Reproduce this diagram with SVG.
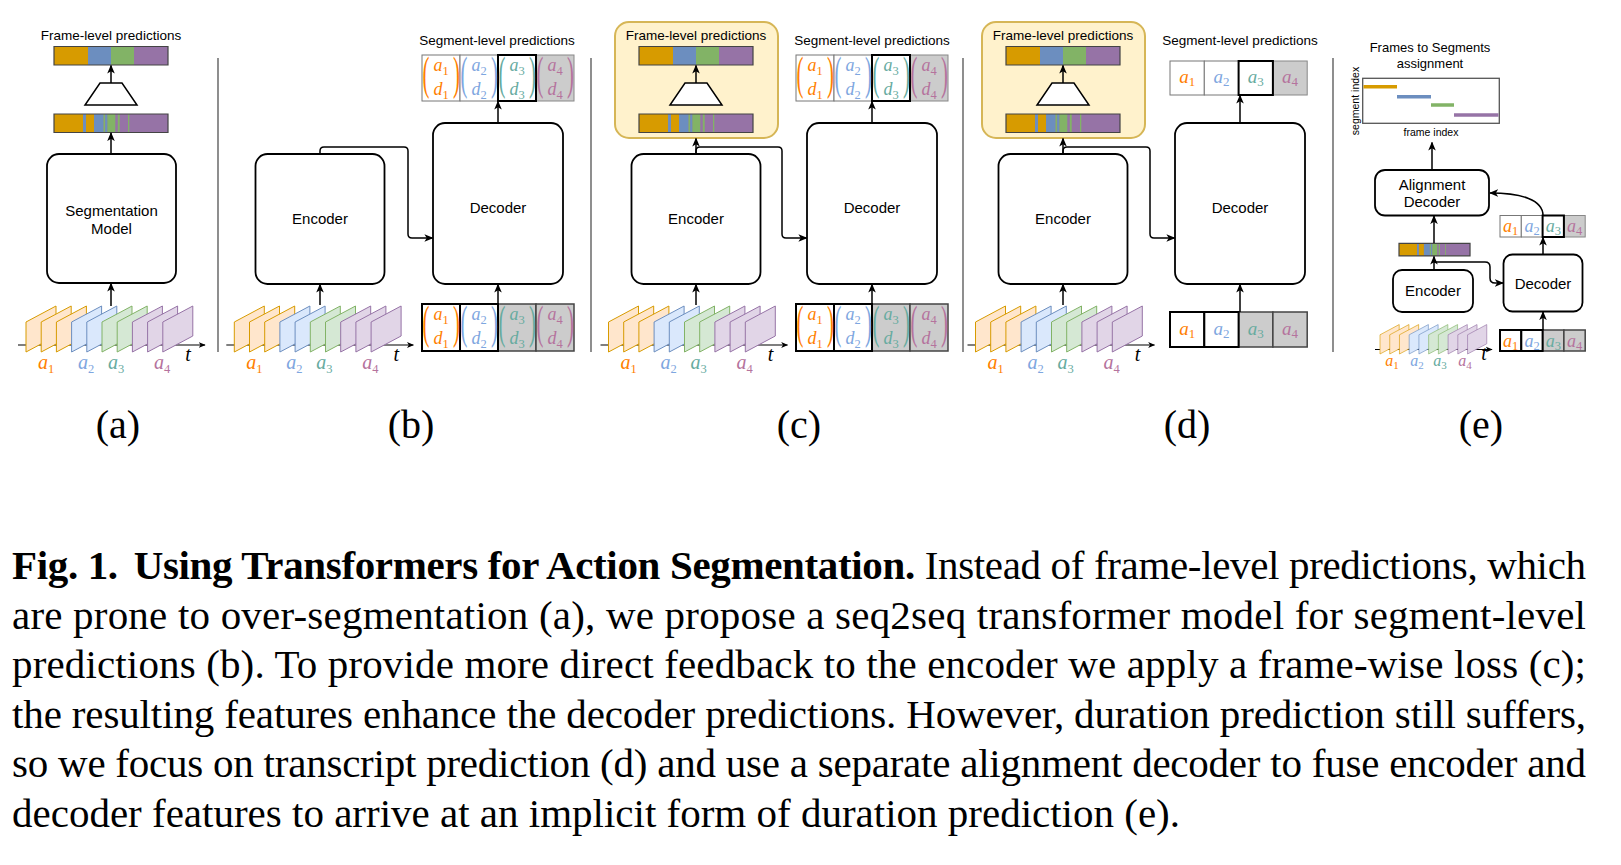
<svg xmlns="http://www.w3.org/2000/svg" xmlns:xlink="http://www.w3.org/1999/xlink" width="1621" height="865" viewBox="0 0 1621 865">
<style>
.t{font-family:"Liberation Sans",Arial,sans-serif;text-anchor:middle;fill:#000}
.t13{font-size:13.5px}
.t15{font-size:15px}
.box{fill:#fff;stroke:#000;stroke-width:1.8}
.yel{fill:#FFF2CC;stroke:#D6B656;stroke-width:2}
.trap{fill:#fff;stroke:#000;stroke-width:1.5}
.fo{fill:#FFE6CC;stroke:#D79B00;stroke-width:1}
.fb{fill:#DAE8FC;stroke:#6C8EBF;stroke-width:1}
.fg{fill:#D5E8D4;stroke:#82B366;stroke-width:1}
.fp{fill:#E1D5E7;stroke:#9673A6;stroke-width:1}
.axis{stroke:#000;stroke-width:1.2;fill:none;marker-end:url(#ah2)}
.sep{stroke:#444;stroke-width:1.2}
.cn{fill:none;stroke:#000;stroke-width:1.5;marker-end:url(#ah)}
.tw{fill:#fff;stroke:#777;stroke-width:1}
.tk{fill:#fff;stroke:#000;stroke-width:2}
.tg{fill:#ccc;stroke:#888;stroke-width:1}
.tgd{fill:#ccc;stroke:#444;stroke-width:1.5}
.m{font-family:"Liberation Serif","Times New Roman",serif;font-size:18px;text-anchor:middle}
.fl{font-family:"Liberation Serif","Times New Roman",serif;font-size:20px;text-anchor:middle}
.m2{font-family:"Liberation Serif","Times New Roman",serif;font-size:19px;text-anchor:middle}
.m3{font-family:"Liberation Serif","Times New Roman",serif;font-size:18px;text-anchor:middle}
.me{font-family:"Liberation Serif","Times New Roman",serif;font-size:16px;text-anchor:middle}
.i{font-style:italic}
.s{font-size:12.5px}
.s2{font-size:13px}
.s3{font-size:11px}
.p{font-family:"Liberation Serif","Times New Roman",serif;font-size:46px;text-anchor:middle}
.c1{fill:#FF8000}
.c2{fill:#7EA6E0}
.c3{fill:#67AB9F}
.c4{fill:#B5739D}
.tt{font-family:"Liberation Serif","Times New Roman",serif;font-size:20px;font-style:italic;text-anchor:middle;fill:#000}
.lbl{font-family:"Liberation Serif","Times New Roman",serif;font-size:40px;text-anchor:middle;fill:#000}
.cap{font-family:"Liberation Serif","Times New Roman",serif;font-size:41px;fill:#000}
</style>
<defs>
<marker id="ah" viewBox="0 0 10 10" refX="9" refY="5" markerWidth="9" markerHeight="9" markerUnits="userSpaceOnUse" orient="auto"><path d="M0,0.8 L10,5 L0,9.2 L2.6,5 Z" fill="#000"/></marker>
<marker id="ah2" viewBox="0 0 10 10" refX="9" refY="5" markerWidth="7" markerHeight="7" markerUnits="userSpaceOnUse" orient="auto"><path d="M0,0.8 L10,5 L0,9.2 L2.6,5 Z" fill="#000"/></marker>
<g id="frames">
<polygon class="fo" points="0,0 0,-30 30,-46 30,-16"/>
<polygon class="fo" points="15.2,0 15.2,-30 45.2,-46 45.2,-16"/>
<polygon class="fo" points="30.4,0 30.4,-30 60.4,-46 60.4,-16"/>
<polygon class="fb" points="45.6,0 45.6,-30 75.6,-46 75.6,-16"/>
<polygon class="fb" points="60.8,0 60.8,-30 90.8,-46 90.8,-16"/>
<polygon class="fg" points="76,0 76,-30 106,-46 106,-16"/>
<polygon class="fg" points="91.2,0 91.2,-30 121.2,-46 121.2,-16"/>
<polygon class="fp" points="106.4,0 106.4,-30 136.4,-46 136.4,-16"/>
<polygon class="fp" points="121.6,0 121.6,-30 151.6,-46 151.6,-16"/>
<polygon class="fp" points="136.8,0 136.8,-30 166.8,-46 166.8,-16"/>
</g>
<g id="clean">
<rect x="0" y="0" width="34" height="18.5" fill="#D79B00"/>
<rect x="34" y="0" width="23" height="18.5" fill="#6C8EBF"/>
<rect x="57" y="0" width="23" height="18.5" fill="#82B366"/>
<rect x="80" y="0" width="34" height="18.5" fill="#9673A6"/>
<rect x="0" y="0" width="114" height="18.5" fill="none" stroke="#444" stroke-width="1.2" vector-effect="non-scaling-stroke"/>
</g>
<g id="noisy">
<rect x="0" y="0" width="114" height="18.5" fill="#9673A6"/>
<rect x="0" y="0" width="29" height="18.5" fill="#D79B00"/>
<rect x="29" y="0" width="3" height="18.5" fill="#6C8EBF"/>
<rect x="32" y="0" width="8" height="18.5" fill="#D79B00"/>
<rect x="40" y="0" width="9.5" height="18.5" fill="#6C8EBF"/>
<rect x="49.5" y="0" width="1.8" height="18.5" fill="#82B366"/>
<rect x="51.3" y="0" width="2.1" height="18.5" fill="#6C8EBF"/>
<rect x="53.4" y="0" width="7.9" height="18.5" fill="#82B366"/>
<rect x="63.8" y="0" width="1.9" height="18.5" fill="#82B366"/>
<rect x="74" y="0" width="1.3" height="18.5" fill="#82B366"/>
<rect x="0" y="0" width="114" height="18.5" fill="none" stroke="#444" stroke-width="1.2" vector-effect="non-scaling-stroke"/>
</g>
</defs>
<rect x="0" y="0" width="1621" height="865" fill="#fff"/>

<g id="separators">
<line class="sep" x1="218" y1="58" x2="218" y2="352"/>
<line class="sep" x1="591" y1="58" x2="591" y2="352"/>
<line class="sep" x1="963" y1="58" x2="963" y2="352"/>
<line class="sep" x1="1333" y1="58" x2="1333" y2="352"/>
</g>

<!-- Panel (a) -->
<g id="a-title"><text class="t t13" x="111" y="40">Frame-level predictions</text></g>
<g id="a-top-bar"><use href="#clean" x="54" y="46.5"/></g>
<g id="a-pool"><polygon class="trap" points="100,83 122,83 137,105 85,105"/></g>
<g id="a-frame-bar"><use href="#noisy" x="54" y="114"/></g>
<g id="a-model"><rect class="box" x="47" y="154" width="129" height="129" rx="12"/><text class="t t15" x="111.5" y="216">Segmentation</text><text class="t t15" x="111.5" y="234">Model</text></g>
<g id="a-frames">
<line class="axis" x1="18" y1="345" x2="205" y2="345"/>
<use href="#frames" transform="translate(26,352)"/>
<text class="tt" x="188" y="361">t</text>
<text class="fl c1" x="46" y="369"><tspan class="i">a</tspan><tspan class="s" dy="3.5">1</tspan></text>
<text class="fl c2" x="86" y="369"><tspan class="i">a</tspan><tspan class="s" dy="3.5">2</tspan></text>
<text class="fl c3" x="116" y="369"><tspan class="i">a</tspan><tspan class="s" dy="3.5">3</tspan></text>
<text class="fl c4" x="162" y="369"><tspan class="i">a</tspan><tspan class="s" dy="3.5">4</tspan></text>
</g>

<!-- Panel (b) -->
<g id="b-title"><text class="t t13" x="497" y="45">Segment-level predictions</text></g>
<g id="b-out-tokens">
<rect class="tw" x="422" y="55" width="38" height="46"/>
<rect class="tw" x="460" y="55" width="38" height="46"/>
<rect class="tg" x="536" y="55" width="38" height="46"/>
<rect class="tk" x="498" y="55" width="38" height="46"/>
<text class="p c1" transform="translate(426,88.7) scale(0.45,1)">(</text><text class="p c1" transform="translate(456.5,88.7) scale(0.45,1)">)</text>
<text class="m c1" x="441" y="71"><tspan class="i">a</tspan><tspan class="s" dy="3.5">1</tspan></text>
<text class="m c1" x="441" y="95"><tspan class="i">d</tspan><tspan class="s" dy="3.5">1</tspan></text>
<text class="p c2" transform="translate(464,88.7) scale(0.45,1)">(</text><text class="p c2" transform="translate(494.5,88.7) scale(0.45,1)">)</text>
<text class="m c2" x="479" y="71"><tspan class="i">a</tspan><tspan class="s" dy="3.5">2</tspan></text>
<text class="m c2" x="479" y="95"><tspan class="i">d</tspan><tspan class="s" dy="3.5">2</tspan></text>
<text class="p c3" transform="translate(502,88.7) scale(0.45,1)">(</text><text class="p c3" transform="translate(532.5,88.7) scale(0.45,1)">)</text>
<text class="m c3" x="517" y="71"><tspan class="i">a</tspan><tspan class="s" dy="3.5">3</tspan></text>
<text class="m c3" x="517" y="95"><tspan class="i">d</tspan><tspan class="s" dy="3.5">3</tspan></text>
<text class="p c4" transform="translate(540,88.7) scale(0.45,1)">(</text><text class="p c4" transform="translate(570.5,88.7) scale(0.45,1)">)</text>
<text class="m c4" x="555" y="71"><tspan class="i">a</tspan><tspan class="s" dy="3.5">4</tspan></text>
<text class="m c4" x="555" y="95"><tspan class="i">d</tspan><tspan class="s" dy="3.5">4</tspan></text>
</g>
<g id="b-encoder"><rect class="box" x="255.5" y="154" width="129" height="130" rx="12"/><text class="t t15" x="320" y="224">Encoder</text></g>
<g id="b-decoder"><rect class="box" x="433" y="123" width="130" height="161" rx="12"/><text class="t t15" x="498" y="213">Decoder</text></g>
<g id="b-in-tokens">
<rect class="tgd" x="498" y="304" width="38" height="47"/>
<rect class="tgd" x="536" y="304" width="38" height="47"/>
<rect class="tk" x="422" y="304" width="38" height="47"/>
<rect class="tk" x="460" y="304" width="38" height="47"/>
<text class="p c1" transform="translate(426,337.7) scale(0.45,1)">(</text><text class="p c1" transform="translate(456.5,337.7) scale(0.45,1)">)</text>
<text class="m c1" x="441" y="320"><tspan class="i">a</tspan><tspan class="s" dy="3.5">1</tspan></text>
<text class="m c1" x="441" y="344"><tspan class="i">d</tspan><tspan class="s" dy="3.5">1</tspan></text>
<text class="p c2" transform="translate(464,337.7) scale(0.45,1)">(</text><text class="p c2" transform="translate(494.5,337.7) scale(0.45,1)">)</text>
<text class="m c2" x="479" y="320"><tspan class="i">a</tspan><tspan class="s" dy="3.5">2</tspan></text>
<text class="m c2" x="479" y="344"><tspan class="i">d</tspan><tspan class="s" dy="3.5">2</tspan></text>
<text class="p c3" transform="translate(502,337.7) scale(0.45,1)">(</text><text class="p c3" transform="translate(532.5,337.7) scale(0.45,1)">)</text>
<text class="m c3" x="517" y="320"><tspan class="i">a</tspan><tspan class="s" dy="3.5">3</tspan></text>
<text class="m c3" x="517" y="344"><tspan class="i">d</tspan><tspan class="s" dy="3.5">3</tspan></text>
<text class="p c4" transform="translate(540,337.7) scale(0.45,1)">(</text><text class="p c4" transform="translate(570.5,337.7) scale(0.45,1)">)</text>
<text class="m c4" x="555" y="320"><tspan class="i">a</tspan><tspan class="s" dy="3.5">4</tspan></text>
<text class="m c4" x="555" y="344"><tspan class="i">d</tspan><tspan class="s" dy="3.5">4</tspan></text>
</g>
<g id="b-frames">
<line class="axis" x1="226.3" y1="345" x2="413.3" y2="345"/>
<use href="#frames" transform="translate(234.3,352)"/>
<text class="tt" x="396.3" y="361">t</text>
<text class="fl c1" x="254.3" y="369"><tspan class="i">a</tspan><tspan class="s" dy="3.5">1</tspan></text>
<text class="fl c2" x="294.3" y="369"><tspan class="i">a</tspan><tspan class="s" dy="3.5">2</tspan></text>
<text class="fl c3" x="324.3" y="369"><tspan class="i">a</tspan><tspan class="s" dy="3.5">3</tspan></text>
<text class="fl c4" x="370.3" y="369"><tspan class="i">a</tspan><tspan class="s" dy="3.5">4</tspan></text>
</g>

<!-- Panel (c) -->
<g id="c-frame-head"><rect class="yel" x="615" y="22" width="163" height="116" rx="14"/><text class="t t13" x="696" y="40">Frame-level predictions</text></g>
<g id="c-top-bar"><use href="#clean" x="639" y="46.5"/></g>
<g id="c-pool"><polygon class="trap" points="685,83 707,83 722,105 670,105"/></g>
<g id="c-frame-bar"><use href="#noisy" x="639" y="114"/></g>
<g id="c-title"><text class="t t13" x="872" y="45">Segment-level predictions</text></g>
<g id="c-out-tokens">
<rect class="tw" x="796" y="55" width="38" height="46"/>
<rect class="tw" x="834" y="55" width="38" height="46"/>
<rect class="tg" x="910" y="55" width="38" height="46"/>
<rect class="tk" x="872" y="55" width="38" height="46"/>
<text class="p c1" transform="translate(800,88.7) scale(0.45,1)">(</text><text class="p c1" transform="translate(830.5,88.7) scale(0.45,1)">)</text>
<text class="m c1" x="815" y="71"><tspan class="i">a</tspan><tspan class="s" dy="3.5">1</tspan></text>
<text class="m c1" x="815" y="95"><tspan class="i">d</tspan><tspan class="s" dy="3.5">1</tspan></text>
<text class="p c2" transform="translate(838,88.7) scale(0.45,1)">(</text><text class="p c2" transform="translate(868.5,88.7) scale(0.45,1)">)</text>
<text class="m c2" x="853" y="71"><tspan class="i">a</tspan><tspan class="s" dy="3.5">2</tspan></text>
<text class="m c2" x="853" y="95"><tspan class="i">d</tspan><tspan class="s" dy="3.5">2</tspan></text>
<text class="p c3" transform="translate(876,88.7) scale(0.45,1)">(</text><text class="p c3" transform="translate(906.5,88.7) scale(0.45,1)">)</text>
<text class="m c3" x="891" y="71"><tspan class="i">a</tspan><tspan class="s" dy="3.5">3</tspan></text>
<text class="m c3" x="891" y="95"><tspan class="i">d</tspan><tspan class="s" dy="3.5">3</tspan></text>
<text class="p c4" transform="translate(914,88.7) scale(0.45,1)">(</text><text class="p c4" transform="translate(944.5,88.7) scale(0.45,1)">)</text>
<text class="m c4" x="929" y="71"><tspan class="i">a</tspan><tspan class="s" dy="3.5">4</tspan></text>
<text class="m c4" x="929" y="95"><tspan class="i">d</tspan><tspan class="s" dy="3.5">4</tspan></text>
</g>
<g id="c-encoder"><rect class="box" x="631.5" y="154" width="129" height="130" rx="12"/><text class="t t15" x="696" y="224">Encoder</text></g>
<g id="c-decoder"><rect class="box" x="807" y="123" width="130" height="161" rx="12"/><text class="t t15" x="872" y="213">Decoder</text></g>
<g id="c-in-tokens">
<rect class="tgd" x="872" y="304" width="38" height="47"/>
<rect class="tgd" x="910" y="304" width="38" height="47"/>
<rect class="tk" x="796" y="304" width="38" height="47"/>
<rect class="tk" x="834" y="304" width="38" height="47"/>
<text class="p c1" transform="translate(800,337.7) scale(0.45,1)">(</text><text class="p c1" transform="translate(830.5,337.7) scale(0.45,1)">)</text>
<text class="m c1" x="815" y="320"><tspan class="i">a</tspan><tspan class="s" dy="3.5">1</tspan></text>
<text class="m c1" x="815" y="344"><tspan class="i">d</tspan><tspan class="s" dy="3.5">1</tspan></text>
<text class="p c2" transform="translate(838,337.7) scale(0.45,1)">(</text><text class="p c2" transform="translate(868.5,337.7) scale(0.45,1)">)</text>
<text class="m c2" x="853" y="320"><tspan class="i">a</tspan><tspan class="s" dy="3.5">2</tspan></text>
<text class="m c2" x="853" y="344"><tspan class="i">d</tspan><tspan class="s" dy="3.5">2</tspan></text>
<text class="p c3" transform="translate(876,337.7) scale(0.45,1)">(</text><text class="p c3" transform="translate(906.5,337.7) scale(0.45,1)">)</text>
<text class="m c3" x="891" y="320"><tspan class="i">a</tspan><tspan class="s" dy="3.5">3</tspan></text>
<text class="m c3" x="891" y="344"><tspan class="i">d</tspan><tspan class="s" dy="3.5">3</tspan></text>
<text class="p c4" transform="translate(914,337.7) scale(0.45,1)">(</text><text class="p c4" transform="translate(944.5,337.7) scale(0.45,1)">)</text>
<text class="m c4" x="929" y="320"><tspan class="i">a</tspan><tspan class="s" dy="3.5">4</tspan></text>
<text class="m c4" x="929" y="344"><tspan class="i">d</tspan><tspan class="s" dy="3.5">4</tspan></text>
</g>
<g id="c-frames">
<line class="axis" x1="600.5" y1="345" x2="787.5" y2="345"/>
<use href="#frames" transform="translate(608.5,352)"/>
<text class="tt" x="770.5" y="361">t</text>
<text class="fl c1" x="628.5" y="369"><tspan class="i">a</tspan><tspan class="s" dy="3.5">1</tspan></text>
<text class="fl c2" x="668.5" y="369"><tspan class="i">a</tspan><tspan class="s" dy="3.5">2</tspan></text>
<text class="fl c3" x="698.5" y="369"><tspan class="i">a</tspan><tspan class="s" dy="3.5">3</tspan></text>
<text class="fl c4" x="744.5" y="369"><tspan class="i">a</tspan><tspan class="s" dy="3.5">4</tspan></text>
</g>

<!-- Panel (d) -->
<g id="d-frame-head"><rect class="yel" x="982" y="22" width="163" height="116" rx="14"/><text class="t t13" x="1063" y="40">Frame-level predictions</text></g>
<g id="d-top-bar"><use href="#clean" x="1006" y="46.5"/></g>
<g id="d-pool"><polygon class="trap" points="1052,83 1074,83 1089,105 1037,105"/></g>
<g id="d-frame-bar"><use href="#noisy" x="1006" y="114"/></g>
<g id="d-title"><text class="t t13" x="1240" y="45">Segment-level predictions</text></g>
<g id="d-out-tokens">
<rect class="tw" x="1170" y="61" width="34.3" height="34"/>
<rect class="tw" x="1204.3" y="61" width="34.3" height="34"/>
<rect class="tg" x="1272.9" y="61" width="34.3" height="34"/>
<rect class="tk" x="1238.6" y="61" width="34.3" height="34"/>
<text class="m2 c1" x="1187.2" y="82.5"><tspan class="i">a</tspan><tspan class="s2" dy="3.5">1</tspan></text>
<text class="m2 c2" x="1221.5" y="82.5"><tspan class="i">a</tspan><tspan class="s2" dy="3.5">2</tspan></text>
<text class="m2 c3" x="1255.8" y="82.5"><tspan class="i">a</tspan><tspan class="s2" dy="3.5">3</tspan></text>
<text class="m2 c4" x="1290.1" y="82.5"><tspan class="i">a</tspan><tspan class="s2" dy="3.5">4</tspan></text>
</g>
<g id="d-encoder"><rect class="box" x="998.5" y="154" width="129" height="130" rx="12"/><text class="t t15" x="1063" y="224">Encoder</text></g>
<g id="d-decoder"><rect class="box" x="1175" y="123" width="130" height="161" rx="12"/><text class="t t15" x="1240" y="213">Decoder</text></g>
<g id="d-in-tokens">
<rect class="tgd" x="1238.6" y="312" width="34.3" height="35"/>
<rect class="tgd" x="1272.9" y="312" width="34.3" height="35"/>
<rect class="tk" x="1170" y="312" width="34.3" height="35"/>
<rect class="tk" x="1204.3" y="312" width="34.3" height="35"/>
<text class="m2 c1" x="1187.2" y="334.5"><tspan class="i">a</tspan><tspan class="s2" dy="3.5">1</tspan></text>
<text class="m2 c2" x="1221.5" y="334.5"><tspan class="i">a</tspan><tspan class="s2" dy="3.5">2</tspan></text>
<text class="m2 c3" x="1255.8" y="334.5"><tspan class="i">a</tspan><tspan class="s2" dy="3.5">3</tspan></text>
<text class="m2 c4" x="1290.1" y="334.5"><tspan class="i">a</tspan><tspan class="s2" dy="3.5">4</tspan></text>
</g>
<g id="d-frames">
<line class="axis" x1="967.5" y1="345" x2="1154.5" y2="345"/>
<use href="#frames" transform="translate(975.5,352)"/>
<text class="tt" x="1137.5" y="361">t</text>
<text class="fl c1" x="995.5" y="369"><tspan class="i">a</tspan><tspan class="s" dy="3.5">1</tspan></text>
<text class="fl c2" x="1035.5" y="369"><tspan class="i">a</tspan><tspan class="s" dy="3.5">2</tspan></text>
<text class="fl c3" x="1065.5" y="369"><tspan class="i">a</tspan><tspan class="s" dy="3.5">3</tspan></text>
<text class="fl c4" x="1111.5" y="369"><tspan class="i">a</tspan><tspan class="s" dy="3.5">4</tspan></text>
</g>

<!-- Panel (e) -->
<g id="e-title"><text class="t" font-size="13" x="1430" y="52">Frames to Segments</text><text class="t" font-size="13" x="1430" y="67.5">assignment</text></g>
<g id="e-plot">
<rect x="1362.7" y="78.3" width="136.6" height="45" fill="#fff" stroke="#555" stroke-width="1.3"/>
<line x1="1363.5" y1="86.7" x2="1397" y2="86.7" stroke="#D79B00" stroke-width="3.5"/>
<line x1="1397" y1="96.7" x2="1431" y2="96.7" stroke="#6C8EBF" stroke-width="3.5"/>
<line x1="1431" y1="105" x2="1454" y2="105" stroke="#82B366" stroke-width="3.5"/>
<line x1="1454" y1="115" x2="1498.5" y2="115" stroke="#9673A6" stroke-width="3.5"/>
<text class="t" font-size="10.5" transform="translate(1355,101) rotate(-90)" x="0" y="3.7">segment index</text>
<text class="t" font-size="10.5" x="1431" y="135.5">frame index</text>
</g>
<g id="e-align-decoder"><rect class="box" x="1375" y="170" width="114" height="45.5" rx="10"/><text class="t t15" x="1432" y="189.5">Alignment</text><text class="t t15" x="1432" y="207">Decoder</text></g>
<g id="e-frame-bar"><use href="#noisy" transform="translate(1399,243.3) scale(0.623,0.676)"/></g>
<g id="e-out-tokens">
<rect class="tw" x="1500" y="215.5" width="21.3" height="21.5"/>
<rect class="tw" x="1521.3" y="215.5" width="21.3" height="21.5"/>
<rect class="tg" x="1563.9" y="215.5" width="21.3" height="21.5"/>
<rect class="tk" x="1542.6" y="215.5" width="21.3" height="21.5"/>
<text class="m3 c1" x="1510.7" y="232"><tspan class="i">a</tspan><tspan class="s" dy="3">1</tspan></text>
<text class="m3 c2" x="1532" y="232"><tspan class="i">a</tspan><tspan class="s" dy="3">2</tspan></text>
<text class="m3 c3" x="1553.3" y="232"><tspan class="i">a</tspan><tspan class="s" dy="3">3</tspan></text>
<text class="m3 c4" x="1574.6" y="232"><tspan class="i">a</tspan><tspan class="s" dy="3">4</tspan></text>
</g>
<g id="e-encoder"><rect class="box" x="1393" y="270" width="80" height="42" rx="9"/><text class="t t15" x="1433" y="296">Encoder</text></g>
<g id="e-decoder"><rect class="box" x="1503.5" y="254.5" width="79" height="57" rx="9"/><text class="t t15" x="1543" y="289">Decoder</text></g>
<g id="e-in-tokens">
<rect class="tgd" x="1542.6" y="330" width="21.3" height="21"/>
<rect class="tgd" x="1563.9" y="330" width="21.3" height="21"/>
<rect class="tk" x="1500" y="330" width="21.3" height="21"/>
<rect class="tk" x="1521.3" y="330" width="21.3" height="21"/>
<text class="m3 c1" x="1510.7" y="346.5"><tspan class="i">a</tspan><tspan class="s" dy="3">1</tspan></text>
<text class="m3 c2" x="1532" y="346.5"><tspan class="i">a</tspan><tspan class="s" dy="3">2</tspan></text>
<text class="m3 c3" x="1553.3" y="346.5"><tspan class="i">a</tspan><tspan class="s" dy="3">3</tspan></text>
<text class="m3 c4" x="1574.6" y="346.5"><tspan class="i">a</tspan><tspan class="s" dy="3">4</tspan></text>
</g>
<g id="e-frames">
<line class="axis" x1="1375" y1="349.5" x2="1492" y2="349.5"/>
<use href="#frames" transform="translate(1380,354) scale(0.64)"/>
<text class="tt" x="1484" y="360">t</text>
<text class="me c1" x="1392" y="366"><tspan class="i">a</tspan><tspan class="s3" dy="3">1</tspan></text>
<text class="me c2" x="1417" y="366"><tspan class="i">a</tspan><tspan class="s3" dy="3">2</tspan></text>
<text class="me c3" x="1440" y="366"><tspan class="i">a</tspan><tspan class="s3" dy="3">3</tspan></text>
<text class="me c4" x="1465" y="366"><tspan class="i">a</tspan><tspan class="s3" dy="3">4</tspan></text>
</g>

<g id="connectors">
<path class="cn" d="M111,83 V65.5"/>
<path class="cn" d="M111,154 V133"/>
<path class="cn" d="M111,306 V283.5"/>
<path class="cn" d="M320,305 V284.5"/>
<path class="cn" d="M498,304 V284.5"/>
<path class="cn" d="M498,123 V101.5"/>
<path class="cn" d="M320,154 V151 Q320,147 324,147 H404 Q408,147 408,151 V234 Q408,238 412,238 H432.5"/>
<path class="cn" d="M696,83 V65.5"/>
<path class="cn" d="M696,154 V138.5"/>
<path class="cn" d="M696,154 V151 Q696,147 700,147 H778 Q782,147 782,151 V234 Q782,238 786,238 H806.5"/>
<path class="cn" d="M696,305 V284.5"/>
<path class="cn" d="M872,304 V284.5"/>
<path class="cn" d="M872,123 V101.5"/>
<path class="cn" d="M1063,83 V65.5"/>
<path class="cn" d="M1063,154 V138.5"/>
<path class="cn" d="M1063,154 V151 Q1063,147 1067,147 H1146 Q1150,147 1150,151 V234 Q1150,238 1154,238 H1174.5"/>
<path class="cn" d="M1063,305 V284.5"/>
<path class="cn" d="M1240,312 V284.5"/>
<path class="cn" d="M1240,123 V95.5"/>
<path class="cn" d="M1432,170 V142.5"/>
<path class="cn" d="M1434,243 V216"/>
<path class="cn" d="M1434,270 V256.5"/>
<path class="cn" d="M1434,262 H1485 Q1490,262 1490,267 V278 Q1490,283 1495,283 H1503"/>
<path class="cn" d="M1543,254.5 V237.5"/>
<path class="cn" d="M1543,330 V312"/>
<path class="cn" d="M1543,215.5 C1543,200 1522,193 1490,193"/>
</g>

<g id="panel-labels">
<text class="lbl" x="118" y="438">(a)</text>
<text class="lbl" x="411" y="438">(b)</text>
<text class="lbl" x="799" y="438">(c)</text>
<text class="lbl" x="1187" y="438">(d)</text>
<text class="lbl" x="1481" y="438">(e)</text>
</g>

<g id="caption" class="cap">
<text x="12" y="579" textLength="1574" lengthAdjust="spacing"><tspan font-weight="bold">Fig. 1. <tspan dx="6">Using Transformers for Action Segmentation.</tspan></tspan> Instead of frame-level predictions, which</text>
<text x="12" y="628.5" textLength="1574" lengthAdjust="spacing">are prone to over-segmentation (a), we propose a seq2seq transformer model for segment-level</text>
<text x="12" y="678" textLength="1574" lengthAdjust="spacing">predictions (b). To provide more direct feedback to the encoder we apply a frame-wise loss (c);</text>
<text x="12" y="727.5" textLength="1574" lengthAdjust="spacing">the resulting features enhance the decoder predictions. However, duration prediction still suffers,</text>
<text x="12" y="777" textLength="1574" lengthAdjust="spacing">so we focus on transcript prediction (d) and use a separate alignment decoder to fuse encoder and</text>
<text x="12" y="826.5">decoder features to arrive at an implicit form of duration prediction (e).</text>
</g>
</svg>
